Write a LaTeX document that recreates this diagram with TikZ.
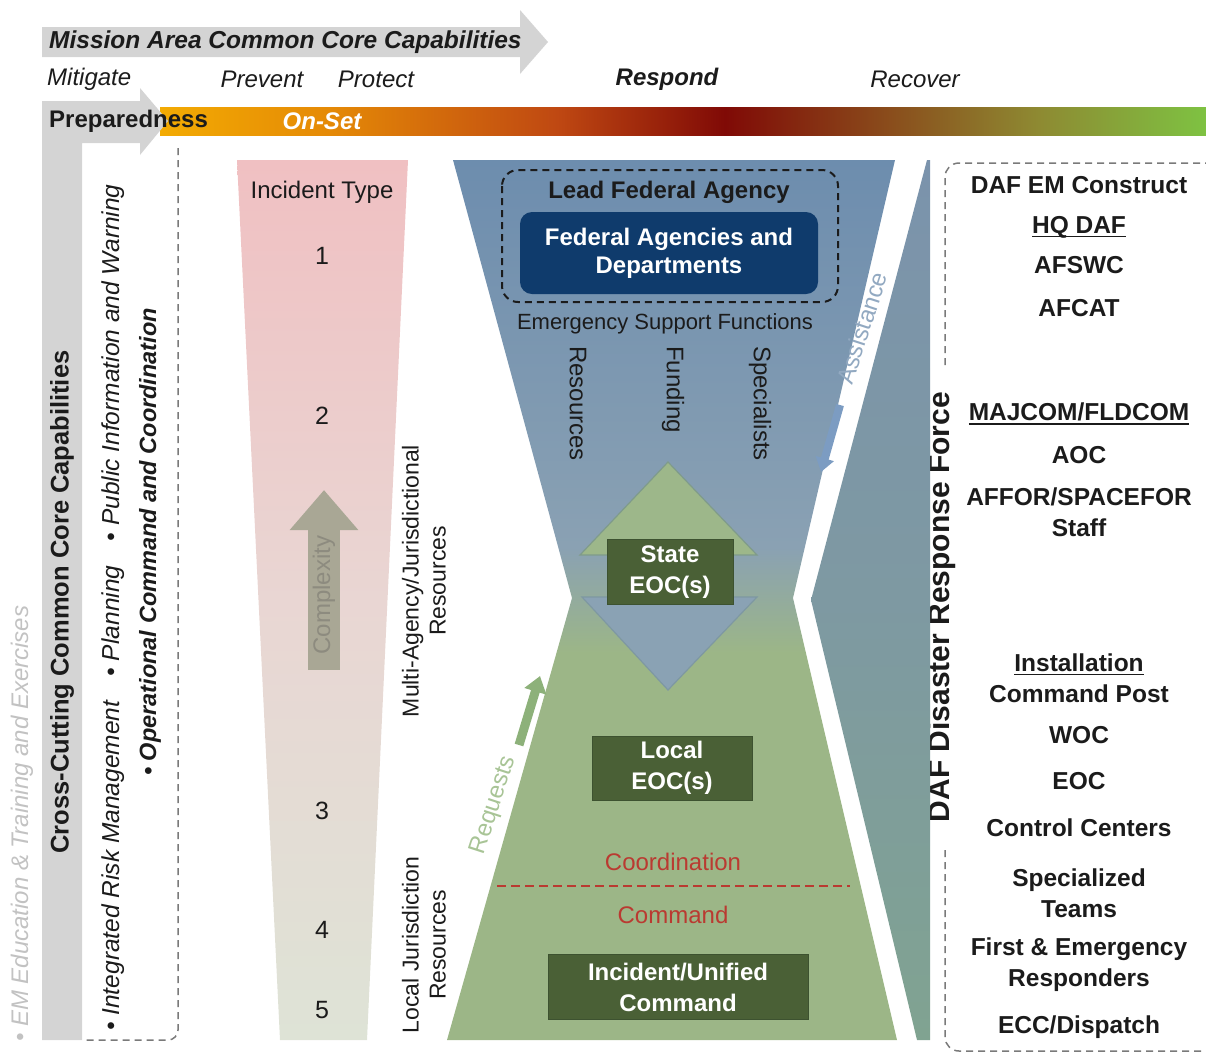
\documentclass[tikz,border=0pt]{standalone}
\usepackage{fontspec}
\setmainfont{Liberation Sans}
\usetikzlibrary{arrows.meta}

\newcommand{\ulab}[1]{\setbox0\hbox{#1}\rlap{\rule[-4pt]{\wd0}{1.6pt}}\box0}

\definecolor{ink}{HTML}{1B1B1B}
\definecolor{capgray}{HTML}{D4D4D4}
\definecolor{emgray}{HTML}{C2C2C2}
\definecolor{dashgray}{HTML}{7A7A7A}
\definecolor{typepink}{HTML}{F0C0C2}
\definecolor{typemid}{HTML}{E9D6D3}
\definecolor{typegreen}{HTML}{DEE3D6}
\definecolor{cplx}{HTML}{A9A795}
\definecolor{cplxtext}{HTML}{8D8B7F}
\definecolor{fedtop}{HTML}{6D8DAE}
\definecolor{fedlow}{HTML}{8AA1B3}
\definecolor{locgreen}{HTML}{9CB687}
\definecolor{eocgreen}{HTML}{4A6036}
\definecolor{eocedge}{HTML}{3D5230}
\definecolor{navy}{HTML}{0F3B6C}
\definecolor{cmdred}{HTML}{BA3A31}
\definecolor{reqgreen}{HTML}{8DB17A}
\definecolor{reqtext}{HTML}{A8C496}
\definecolor{asstblue}{HTML}{7C9CC2}
\definecolor{assttext}{HTML}{92A9C1}
\definecolor{bandtop}{HTML}{7B93AC}
\definecolor{bandmid}{HTML}{7E99A2}
\definecolor{bandlow}{HTML}{80A391}
\definecolor{upfill}{HTML}{9DB78A}
\definecolor{upedge}{HTML}{7F9B8B}
\definecolor{downfill}{HTML}{8AA2B4}
\definecolor{downedge}{HTML}{7E98A2}
\definecolor{barA}{HTML}{F3AB03}
\definecolor{barB}{HTML}{E58A06}
\definecolor{barC}{HTML}{BF4812}
\definecolor{barD}{HTML}{800A06}
\definecolor{barE}{HTML}{8A4E1C}
\definecolor{barF}{HTML}{8E8A32}
\definecolor{barG}{HTML}{7EC242}

\pgfdeclarehorizontalshading{onset}{100bp}{color(0bp)=(barA); color(25bp)=(barA); color(33bp)=(barB); color(44bp)=(barC); color(52bp)=(barD); color(60bp)=(barE); color(67bp)=(barF); color(75bp)=(barG); color(100bp)=(barG)}
\pgfdeclareverticalshading{hourglass}{100bp}{color(0bp)=(locgreen); color(25bp)=(locgreen); color(47bp)=(locgreen); color(53bp)=(fedlow); color(75bp)=(fedtop); color(100bp)=(fedtop)}
\pgfdeclareverticalshading{band}{100bp}{color(0bp)=(bandlow); color(25bp)=(bandlow); color(50bp)=(bandmid); color(75bp)=(bandtop); color(100bp)=(bandtop)}

\tikzset{
	lbl/.style={inner sep=0pt, text=ink, font=\fontsize{24}{28}\selectfont},
	blbl/.style={lbl, font=\fontsize{24}{28}\selectfont\bfseries},
	ilbl/.style={lbl, font=\fontsize{24}{28}\selectfont\itshape},
	eoc/.style={blbl, text=white, fill=eocgreen, draw=eocedge, line width=1pt, align=center, font=\fontsize{24}{31}\selectfont\bfseries},
	daflbl/.style={blbl, font=\fontsize{24.5}{28}\selectfont\bfseries},
	stack/.style={blbl, align=center, font=\fontsize{24.5}{31}\selectfont\bfseries},
	dashline/.style={dash pattern=on 7pt off 5pt, line width=1.5pt},
}

\begin{document}
\begin{tikzpicture}[x=1pt,y=-1pt]
	\useasboundingbox (0,0) rectangle (1206,1053);

	\fill[capgray] (42,27) -- (520,27) -- (520,10) -- (548,42) -- (520,74) -- (520,57) -- (42,57) -- cycle;
	\node[blbl, anchor=west, font=\fontsize{24.5}{28}\selectfont\bfseries] (mission) at (49,42) {\itshape Mission Area Common Core Capabilities};

	\node[ilbl, anchor=west] (mitigate) at (47,79) {Mitigate};
	\node[ilbl] (prevent) at (262,79) {Prevent};
	\node[ilbl] (protect) at (376,79) {Protect};
	\node[blbl] (respond) at (667,79) {\itshape Respond};
	\node[ilbl] (recover) at (915,79) {Recover};

	\shade[shading=onset] (160,107) rectangle (1206,135);
	\fill[capgray] (42,101) -- (140,101) -- (140,88) -- (168,121) -- (140,155) -- (140,143) -- (82,143) -- (82,1040) -- (42,1040) -- cycle;
	\node[blbl, anchor=west] (prep) at (49,121) {Preparedness};
	\node[blbl, text=white] (onset) at (322,121) {\itshape On-Set};

	\draw[dashgray, dashline, rounded corners=10] (178,148) -- (178,1040) -- (84,1040);
	\node[ilbl, text=emgray, rotate=90, anchor=west] (emedu) at (22,1042) {\textbullet\ EM Education \& Training and Exercises};
	\node[blbl, rotate=90, font=\fontsize{25.5}{28}\selectfont\bfseries] (crosscut) at (62,602) {Cross-Cutting Common Core Capabilities};
	\node[ilbl, rotate=90, anchor=west, font=\fontsize{24.5}{28}\selectfont\itshape] (irm) at (113,1031) {\textbullet\ Integrated Risk Management\quad\textbullet\ Planning\quad\textbullet\ Public Information and Warning};
	\node[blbl, rotate=90, anchor=west, font=\fontsize{23.5}{28}\selectfont\bfseries] (opcmd) at (150,776) {\itshape\textbullet\ Operational Command and Coordination};

	\shade[top color=typepink, bottom color=typegreen, middle color=typemid] (237,160) -- (408,160) -- (367,1040) -- (280,1040) -- cycle;
	\node[lbl] (inctype) at (322,192) {Incident Type};
	\foreach \n/\y in {1/256,2/416,3/811,4/930,5/1010}
		\node[lbl, font=\fontsize{25}{29}\selectfont] (type\n) at (322,\y) {\n};
	\coordinate (cplxtail) at (324,670);
	\coordinate (cplxhead) at (324,490);
	\draw[cplx, line width=32pt, -{Triangle[length=40pt,width=66pt]}] (cplxtail) -- (cplxhead);
	\node[lbl, text=cplxtext, rotate=90] (cplx) at (324,595) {Complexity};

	\node[lbl, rotate=90, align=center, font=\fontsize{23}{27}\selectfont] (multi) at (424,581) {Multi-Agency/Jurisdictional\\Resources};
	\node[lbl, rotate=90, align=center, font=\fontsize{23}{27}\selectfont] (localres) at (424,945) {Local Jurisdiction\\Resources};

	\shade[shading=hourglass] (453,160) -- (895,160) -- (793,598) -- (897,1040) -- (447,1040) -- (572,598) -- cycle;
	\draw[ink, dashline, line width=2pt, rounded corners=16] (502,170) rectangle (838,302);
	\node[blbl] (lead) at (669,192) {Lead Federal Agency};
	\node[blbl, text=white, fill=navy, rounded corners=12, align=center, minimum width=298pt, minimum height=82pt] (fed) at (669,253) {Federal Agencies and\\Departments};
	\node[lbl, font=\fontsize{22}{26}\selectfont] (esf) at (665,324) {Emergency Support Functions};
	\node[lbl, rotate=-90, anchor=west] (res) at (578,346) {Resources};
	\node[lbl, rotate=-90, anchor=west] (fund) at (673,346) {Funding};
	\node[lbl, rotate=-90, anchor=west] (spec) at (760,346) {Specialists};

	\filldraw[fill=upfill, draw=upedge, line width=1.2pt] (668,462) -- (757,555) -- (580,555) -- cycle;
	\filldraw[fill=downfill, draw=downedge, line width=1.2pt] (582,597) -- (757,597) -- (668,690) -- cycle;
	\node[eoc, minimum width=126pt, minimum height=65pt] (state) at (670,572) {State\\EOC(s)};
	\node[eoc, minimum width=160pt, minimum height=64pt] (local) at (672,768) {Local\\EOC(s)};
	\node[eoc, minimum width=260pt, minimum height=65pt] (icuc) at (678,987) {Incident/Unified\\Command};

	\node[lbl, text=cmdred] (coord) at (673,862) {Coordination};
	\coordinate (divl) at (497,886);
	\coordinate (divr) at (850,886);
	\draw[cmdred, dash pattern=on 9pt off 5pt, line width=2pt] (divl) -- (divr);
	\node[lbl, text=cmdred] (cmd) at (673,915) {Command};

	\coordinate (reqtail) at (519,745);
	\coordinate (reqhead) at (540,676);
	\draw[reqgreen, line width=9pt, -{Triangle[length=16pt,width=22pt]}] (reqtail) -- (reqhead);
	\node[lbl, text=reqtext, rotate=72] (req) at (494,805) {Requests};

	\draw[dashgray, dashline, rounded corners=14] (1212,163) -- (945,163) -- (945,1051) -- (1212,1051);
	\node[blbl, font=\fontsize{30}{34}\selectfont\bfseries, rotate=90, fill=white, inner xsep=24pt, inner ysep=1pt] (daf) at (942,607) {DAF Disaster Response Force};
	\shade[shading=band] (927,160) -- (930,160) -- (930,1040) -- (917,1040) -- (811,600) -- cycle;
	\coordinate (asttail) at (840,405);
	\coordinate (asthead) at (821,472);
	\draw[asstblue, line width=8pt, -{Triangle[length=14pt,width=18pt]}] (asttail) -- (asthead);
	\node[lbl, text=assttext, rotate=72] (assist) at (862,328) {Assistance};

	\node[daflbl] (construct) at (1079,185) {DAF EM Construct};
	\node[daflbl] (hq) at (1079,227) {\ulab{HQ DAF}};
	\node[daflbl] (afswc) at (1079,265) {AFSWC};
	\node[daflbl] (afcat) at (1079,308) {AFCAT};
	\node[daflbl] (majcom) at (1079,414) {\ulab{MAJCOM/FLDCOM}};
	\node[daflbl] (aoc) at (1079,455) {AOC};
	\node[stack] (affor) at (1079,512) {AFFOR/SPACEFOR\\Staff};
	\node[stack] (inst) at (1079,678) {\ulab{Installation}\\Command Post};
	\node[daflbl] (woc) at (1079,735) {WOC};
	\node[daflbl] (eoc) at (1079,781) {EOC};
	\node[daflbl] (ctrl) at (1079,828) {Control Centers};
	\node[stack] (teams) at (1079,893) {Specialized\\Teams};
	\node[stack] (resp) at (1079,965) {First \& Emergency\\Responders};
	\node[daflbl] (ecc) at (1079,1027) {ECC/Dispatch};
\end{tikzpicture}
\end{document}
